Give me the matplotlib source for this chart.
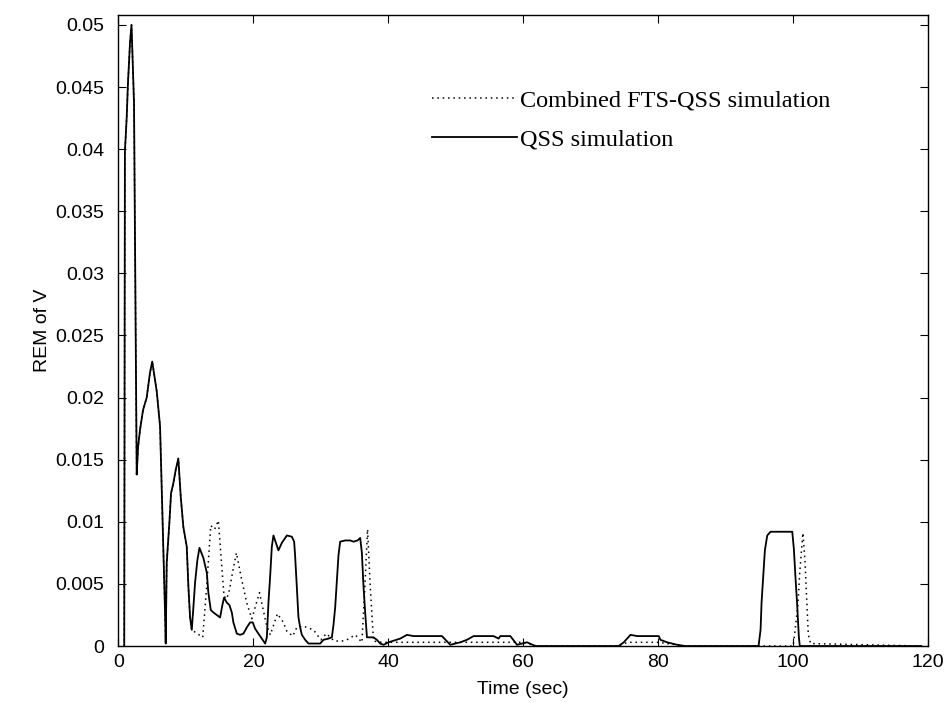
import matplotlib
matplotlib.use('Agg')
import matplotlib.pyplot as plt
import numpy as np

# shared start (both simulations agree up to ~11 s)
common_t = [0.85, 0.95, 1.22, 1.41, 1.71, 1.93, 2.3, 2.7, 2.9, 3.19, 3.64, 4.18, 4.67, 5.0,
            5.67, 6.16, 6.41, 6.65, 6.9, 7.0, 7.15, 7.54, 7.79, 8.13, 8.49, 8.87, 9.23,
            9.61, 10.12, 10.36, 10.61, 10.86]
common_v = [0.0, 0.0398, 0.0426, 0.0454, 0.0486, 0.050, 0.0437, 0.0138, 0.016, 0.0174, 0.019,
            0.020, 0.022, 0.0229, 0.0205, 0.0177, 0.0127, 0.0077, 0.0027, 0.0002, 0.0067,
            0.0099, 0.0123, 0.0131, 0.0142, 0.0151, 0.012, 0.0096, 0.008, 0.0048, 0.0023,
            0.0013]

# QSS simulation (solid)
qss_t = [11.1, 11.35, 11.69, 12.0, 12.58, 13.09, 13.32, 13.68, 14.07, 14.57, 15.06, 15.4,
         15.65, 16.05, 16.44, 16.8, 17.03, 17.54, 18.03, 18.52, 19.02, 19.51, 19.91, 20.25,
         20.74, 21.25, 21.74, 21.99, 22.23, 22.48, 22.73, 22.97, 23.22, 23.71, 24.21, 24.96,
         25.7, 26.04, 26.19, 26.44, 26.68, 26.93, 27.18, 27.67, 28.16, 29.9, 30.39, 31.13,
         31.63, 31.87, 32.12, 32.37, 32.61, 32.86, 33.6, 34.35, 34.84, 35.43, 35.83, 36.08,
         36.32, 36.57, 36.83, 37.8, 38.3, 38.8, 39.3, 40.03, 41.77, 42.76, 43.74, 47.95,
         49.18, 50.67, 51.66, 52.64, 55.6, 56.35, 56.6, 58.09, 59.08, 60.56, 61.8, 74.15,
         74.9, 75.9, 76.88, 80.09, 80.34, 81.33, 82.82, 84.0, 94.88, 95.18, 95.33, 95.58,
         95.82, 96.17, 96.66, 99.88, 100.12, 100.37, 100.62, 100.86, 101.0, 119.0]
qss_v = [0.0031, 0.0051, 0.0069, 0.0079, 0.0071, 0.0059, 0.0043, 0.0029, 0.0027, 0.0025,
         0.0023, 0.0033, 0.0039, 0.0035, 0.0033, 0.0027, 0.0019, 0.001, 0.0009, 0.001,
         0.0015, 0.0019, 0.0019, 0.0014, 0.001, 0.0006, 0.0002, 0.0007, 0.0035, 0.0056,
         0.008, 0.0089, 0.0085, 0.0077, 0.0083, 0.0089, 0.0088, 0.0084, 0.0072, 0.0047,
         0.0023, 0.0015, 0.0009, 0.0005, 0.0002, 0.0002, 0.0005, 0.0006, 0.0007, 0.0017,
         0.0031, 0.0053, 0.0073, 0.0084, 0.0085, 0.0085, 0.0084, 0.0085, 0.0087, 0.0075,
         0.0048, 0.0027, 0.0007, 0.0007, 0.0005, 0.0002, 0.0001, 0.0003, 0.0006, 0.0009,
         0.0008, 0.0008, 0.0001, 0.0003, 0.0005, 0.0008, 0.0008, 0.0006, 0.0008, 0.0008,
         0.0001, 0.0003, 0.0, 0.0, 0.0003, 0.0009, 0.0008, 0.0008, 0.0005, 0.0003, 0.0001,
         0.0, 0.0, 0.0013, 0.0035, 0.0056, 0.0077, 0.0089, 0.0092, 0.0092, 0.0078, 0.0054,
         0.0032, 0.0007, 0.0, 0.0]

# Combined FTS-QSS simulation (dotted)
fts_t = [12.49, 13.1, 13.68, 14.25, 14.81, 15.2, 15.65, 16.05, 16.44, 17.0, 17.48, 18.2,
         19.0, 19.76, 20.9, 21.9, 22.5, 23.56, 24.45, 24.95, 25.84, 26.44, 27.42, 28.9,
         30.0, 30.8, 32.0, 33.1, 33.86, 35.1, 36.08, 36.5, 36.92, 37.3, 37.8, 39.0, 45.0,
         50.0, 55.0, 60.0, 62.0, 74.0, 75.5, 80.0, 84.0, 100.0, 100.2, 100.7, 101.0, 101.46,
         101.76, 102.0, 102.26, 102.6, 119.0]
fts_v = [0.0007, 0.005, 0.0097, 0.0094, 0.0101, 0.0072, 0.004, 0.0038, 0.0045, 0.0062,
         0.0075, 0.0055, 0.0035, 0.0022, 0.0043, 0.0018, 0.0009, 0.0026, 0.0019, 0.0012,
         0.0008, 0.0015, 0.0016, 0.0013, 0.0005, 0.001, 0.0004, 0.0004, 0.0005, 0.0009,
         0.0003, 0.0045, 0.0094, 0.005, 0.0004, 0.0003, 0.0003, 0.0003, 0.0003, 0.0003, 0.0,
         0.0, 0.0003, 0.0003, 0.0, 0.0, 0.0008, 0.0032, 0.006, 0.0091, 0.0069, 0.004,
         0.0009, 0.0002, 0.0]

t_qss = common_t + qss_t
v_qss = common_v + qss_v
t_fts = common_t + fts_t
v_fts = common_v + fts_v

xticks = [0, 20, 40, 60, 80, 100, 120]
yticks = np.arange(0, 0.0501, 0.005)

fig = plt.figure(figsize=(9.51, 7.14), dpi=100)
ax = fig.add_axes([0.1246, 0.0952, 0.8512, 0.8838])

l1, = ax.plot(t_fts, v_fts, color='black', lw=1.1, linestyle=(0, (1, 2.5)), zorder=3)
l2, = ax.plot(t_qss, v_qss, color='black', lw=1.3, zorder=2)

ax.set_xlim(0, 120)
ax.set_ylim(0, 0.0508)
ax.set_xticks(xticks)
ax.set_yticks(yticks)
ax.set_yticklabels(['%g' % y for y in yticks])
ax.tick_params(direction='in', length=6, top=True, right=True, labelsize=14)
ax.tick_params(axis='y', pad=10)
ax.tick_params(axis='x', pad=6)
for lab in ax.get_xticklabels() + ax.get_yticklabels():
    lab.set_family('Liberation Sans')
for s in ax.spines.values():
    s.set_linewidth(1.0)

ax.set_xlabel('Time (sec)', fontsize=14, family='Liberation Sans', labelpad=7)
ax.set_ylabel('REM of V', fontsize=14, family='Liberation Sans', labelpad=3)

ax.legend([l1, l2], ['Combined FTS-QSS simulation', 'QSS simulation'],
          loc='upper left', bbox_to_anchor=(432 / 951, 1 - 89 / 714),
          bbox_transform=fig.transFigure, frameon=False, borderpad=0, borderaxespad=0,
          handlelength=3.5, handletextpad=0.1, labelspacing=0.72,
          prop={'family': 'Liberation Serif', 'size': 17.5})

fig.savefig('out.png', dpi=100)
